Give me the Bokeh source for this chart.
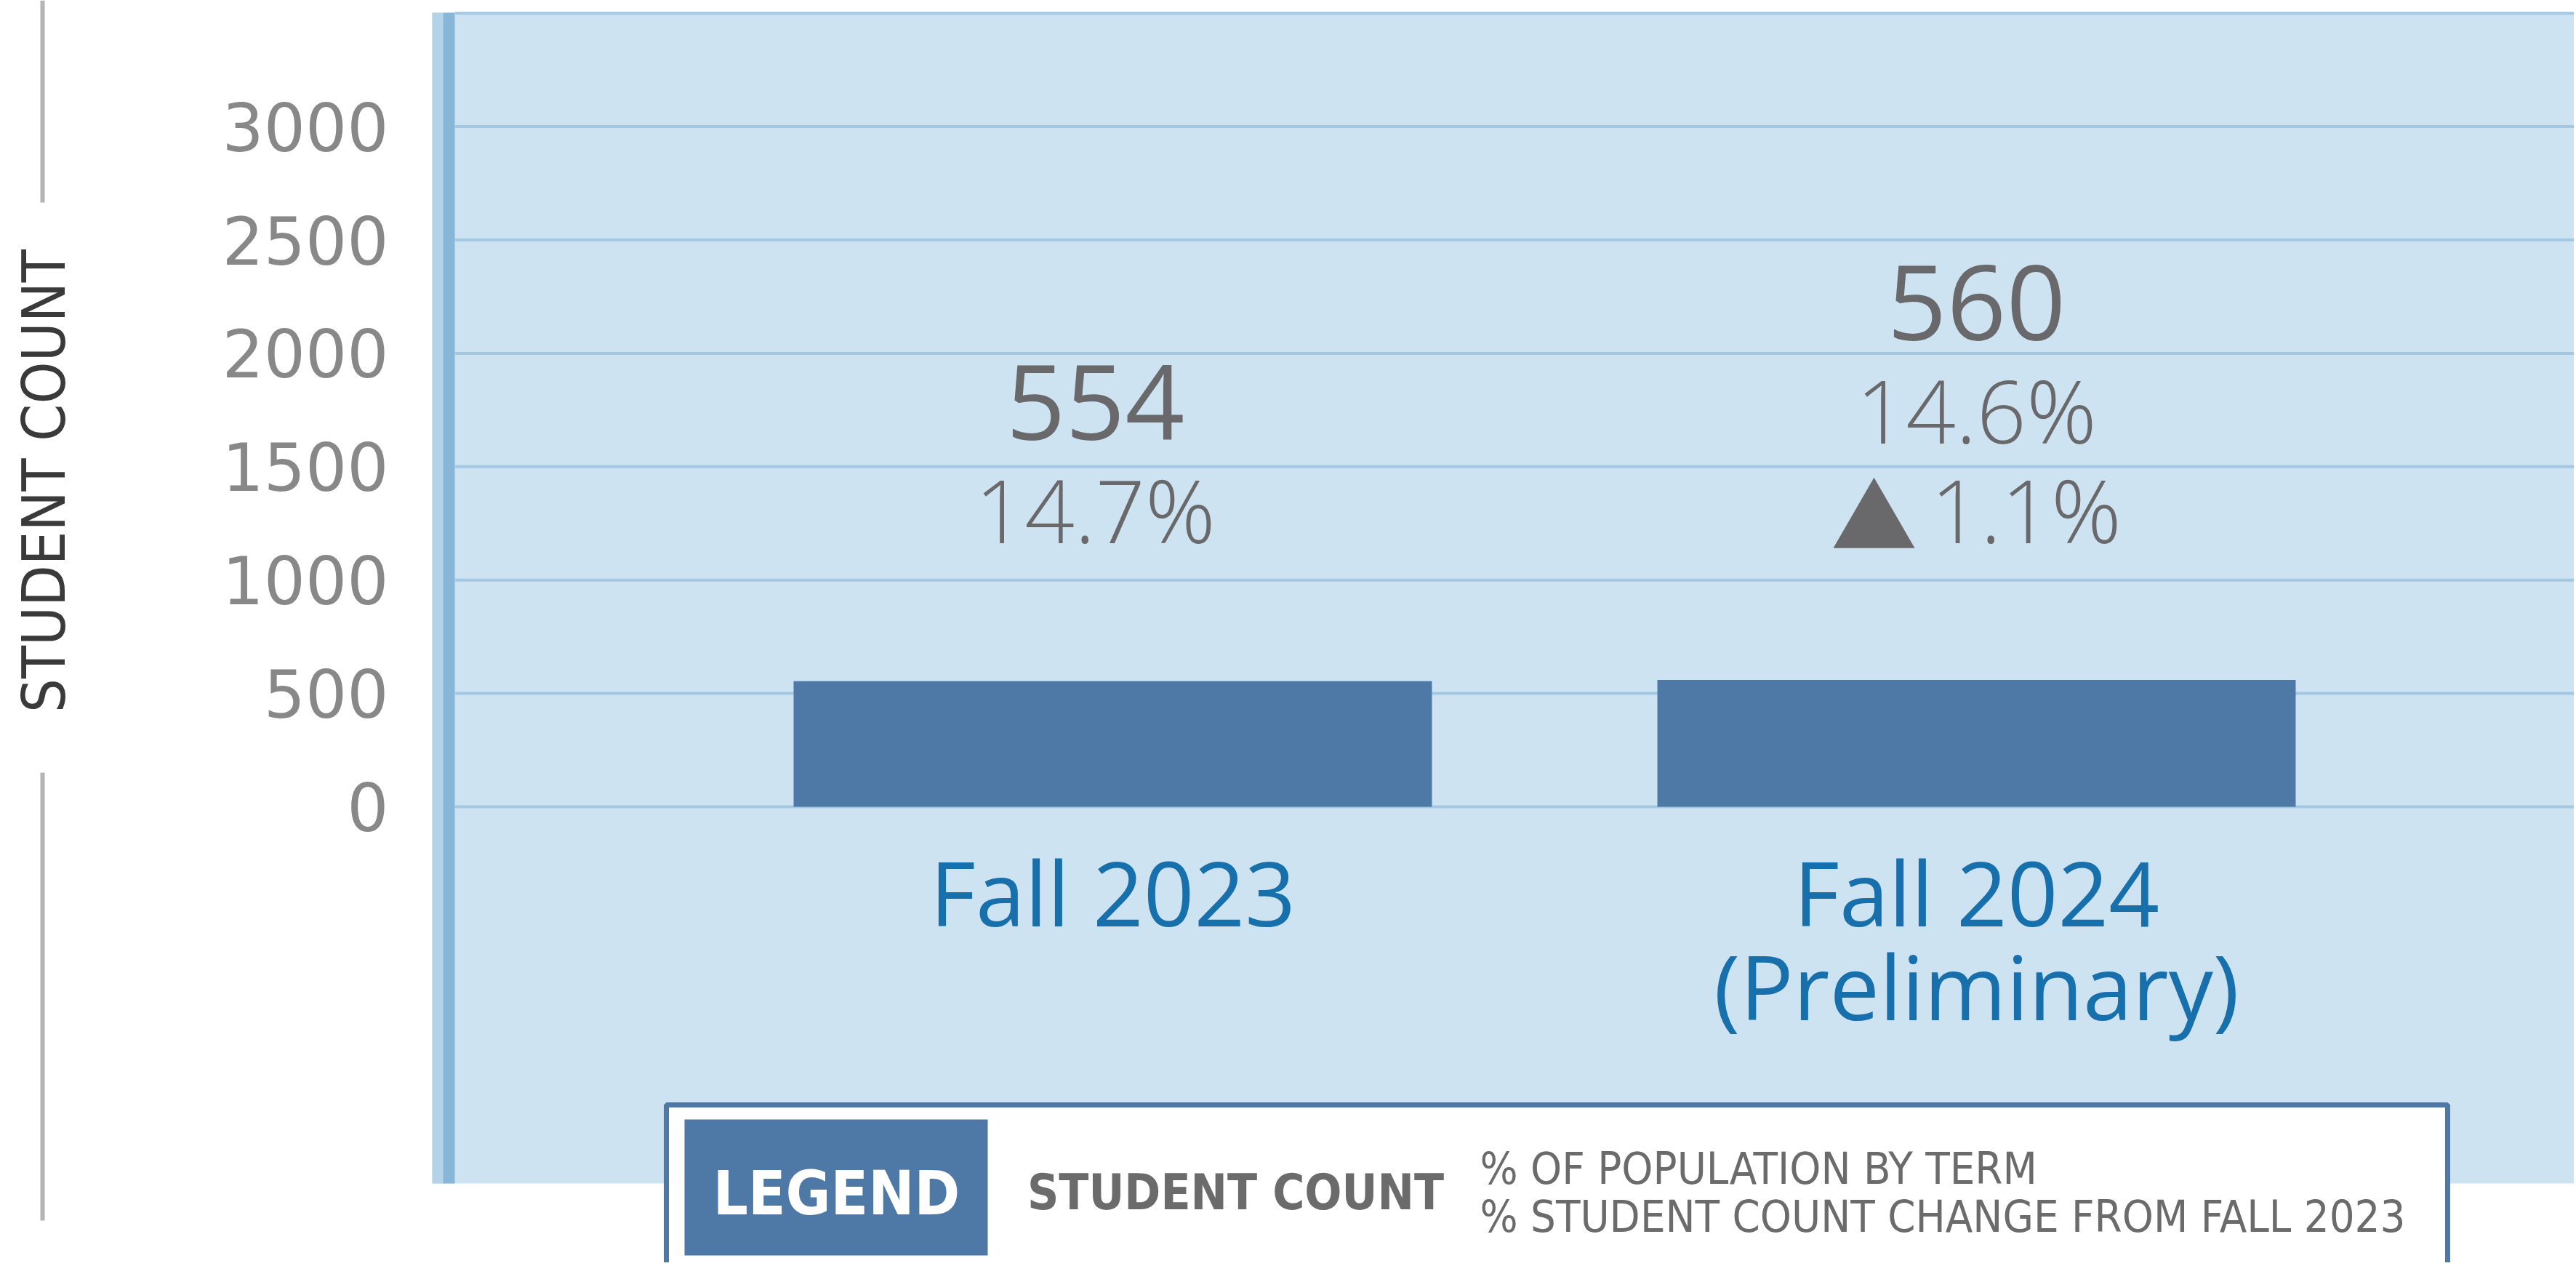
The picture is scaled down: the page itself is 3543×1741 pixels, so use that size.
import math
from bokeh.plotting import figure
from bokeh.models import Range1d, FixedTicker, BoxAnnotation, Label
from bokeh.embed import file_html
from bokeh.resources import INLINE
from bokeh.core.properties import value

# ---------------- data ----------------
categories = ["Fall 2023", "Fall 2024\n(Preliminary)"]
student_counts = [554, 560]
pct_of_population = [14.7, 14.6]
pct_change = [None, 1.1]
y_tick_values = [0, 500, 1000, 1500, 2000, 2500, 3000]
grid_values = [0, 500, 1000, 1500, 2000, 2500, 3000, 3500]
y_axis_title = "STUDENT COUNT"
legend_title = "LEGEND"
legend_main = "STUDENT COUNT"
legend_lines = ["% OF POPULATION BY TERM", "% STUDENT COUNT CHANGE FROM FALL 2023"]

# ---------------- colours ----------------
PANEL = "#cee3f1"
GRID = "#a4c8e2"
STRIPE_LIGHT = "#b3d3e8"
STRIPE_DARK = "#87b6d6"
BAR = "#4e78a6"
VALUE_GRAY = "#69696b"
CAT_BLUE = "#1770ab"
TICK_GRAY = "#888888"

# ---------------- geometry (page pixels) ----------------
W, H = 3540, 1736
X_PX = 1188.0          # pixels per category step
X1_PAGE = 1530         # page x of first category
Y0_PAGE = 1109         # page y of value 0
Y_PX = 155.9 / 500.0   # pixels per unit
OS_DESC = 0.40         # Open Sans baseline correction (em)
DV_DESC = 0.28         # DejaVu baseline correction (em)
LABEL_NUDGE = [-24, 0]  # horizontal nudge (px) of each value-label stack


def xd(px):
    return 1 + (px - X1_PAGE) / X_PX


def yd(py):
    return (Y0_PAGE - py) / Y_PX


def base(py, size, desc):
    # y for an alphabetic-baseline text so that its baseline lands on page y `py`
    return yd(py - desc * size)


x_start, x_end = xd(0), xd(W)
y_end, y_start = yd(0), yd(H)

p = figure(width=W, height=H,
           x_range=Range1d(x_start, x_end), y_range=Range1d(y_start, y_end),
           output_backend="svg", toolbar_location=None,
           x_axis_location=None, y_axis_location="left",
           min_border_left=0, min_border_right=0,
           min_border_top=0, min_border_bottom=0,
           background_fill_color="white", border_fill_color="white",
           outline_line_color=None)

for g in p.xgrid:
    g.visible = False
for g in p.ygrid:
    g.visible = False

PANEL_LEFT, PANEL_TOP, PANEL_BOTTOM = 594, 17, 1627


def box(l, r, t, b, color, **kw):
    return BoxAnnotation(left=l, right=r, top=t, bottom=b, fill_color=color,
                         fill_alpha=1.0, line_color=None, **kw)


# panel background and left stripes (under the glyphs)
p.add_layout(box(xd(PANEL_LEFT), x_end, yd(PANEL_TOP), yd(PANEL_BOTTOM), PANEL, level="underlay"))
p.add_layout(box(xd(PANEL_LEFT), xd(609), yd(PANEL_TOP), yd(PANEL_BOTTOM), STRIPE_LIGHT, level="underlay"))
p.add_layout(box(xd(609), xd(625), yd(PANEL_TOP), yd(PANEL_BOTTOM), STRIPE_DARK, level="underlay"))

# horizontal grid lines inside the panel
p.segment(x0=[xd(625)] * len(grid_values), x1=[x_end] * len(grid_values),
          y0=grid_values, y1=grid_values, line_color=GRID, line_width=4)

# y axis placed at the panel edge
ax = p.yaxis[0]
ax.fixed_location = xd(PANEL_LEFT)
ax.ticker = FixedTicker(ticks=y_tick_values)
ax.major_label_text_font = "DejaVu Sans"
ax.major_label_text_font_size = "90px"
ax.major_label_text_color = TICK_GRAY
ax.major_label_standoff = 60
ax.major_tick_out = 0
ax.major_tick_in = 0
ax.major_tick_line_color = None
ax.minor_tick_line_color = None
ax.axis_line_color = None

# ---------------- bars ----------------
xs = [i + 1 for i in range(len(categories))]
p.vbar(x=xs, top=student_counts, bottom=0, width=0.739,
       fill_color=BAR, line_color=None)

# ---------------- value labels ----------------
CNT_SIZE, PCT_SIZE = 143, 120
BASE = 748
LINE = 137.5
cnt_x, cnt_y, cnt_t = [], [], []
pct_x, pct_y, pct_t = [], [], []
chg_x, chg_y, chg_t, tri_x, tri_y = [], [], [], [], []
for i, x in enumerate(xs):
    lx = x + LABEL_NUDGE[i] / X_PX
    n = 2 + (1 if pct_change[i] is not None else 0)
    cnt_x.append(lx); cnt_y.append(base(BASE - (n - 1) * LINE, CNT_SIZE, OS_DESC))
    cnt_t.append(str(student_counts[i]))
    pct_x.append(lx); pct_y.append(base(BASE - (n - 2) * LINE, PCT_SIZE, OS_DESC))
    pct_t.append(f"{pct_of_population[i]:.1f}%")
    if pct_change[i] is not None:
        chg_x.append(lx - 63 / X_PX); chg_y.append(base(BASE, PCT_SIZE, OS_DESC))
        chg_t.append(f"{abs(pct_change[i]):.1f}%")
        tri_x.append(lx - 141 / X_PX); tri_y.append(yd(721))

p.text(x=cnt_x, y=cnt_y, text=cnt_t, text_align="center", text_baseline="alphabetic",
       text_font=value("Open Sans"), text_font_size=f"{CNT_SIZE}px", text_color=VALUE_GRAY)
p.text(x=pct_x, y=pct_y, text=pct_t, text_align="center", text_baseline="alphabetic",
       text_font=value("Open Sans Light"), text_font_size=f"{PCT_SIZE}px", text_color=VALUE_GRAY)
p.text(x=chg_x, y=chg_y, text=chg_t, text_align="left", text_baseline="alphabetic",
       text_font=value("Open Sans Light"), text_font_size=f"{PCT_SIZE}px", text_color=VALUE_GRAY)
p.scatter(x=tri_x, y=tri_y, marker="triangle", size=112,
          fill_color=VALUE_GRAY, line_color=None)

# ---------------- category labels ----------------
CAT_SIZE = 122
l1_x, l1_t, l2_x, l2_t = [], [], [], []
for i, c in enumerate(categories):
    parts = c.split("\n")
    l1_x.append(xs[i]); l1_t.append(parts[0])
    if len(parts) > 1:
        l2_x.append(xs[i]); l2_t.append(parts[1])
p.text(x=l1_x, y=[base(1275, CAT_SIZE, OS_DESC)] * len(l1_x), text=l1_t, text_align="center",
       text_baseline="alphabetic", text_font=value("Open Sans"),
       text_font_size=f"{CAT_SIZE}px", text_color=CAT_BLUE)
p.text(x=l2_x, y=[base(1404, CAT_SIZE, OS_DESC)] * len(l2_x), text=l2_t, text_align="center",
       text_baseline="alphabetic", text_font=value("Open Sans"),
       text_font_size=f"{CAT_SIZE}px", text_color=CAT_BLUE)

# ---------------- left side: grey rules and rotated title ----------------
p.add_layout(box(xd(55), xd(61), yd(0), yd(278), "#b4b4b4"))
p.add_layout(box(xd(55), xd(61), yd(1062), yd(1678), "#b4b4b4"))
p.add_layout(Label(x=xd(60), y=yd(661), text=y_axis_title, angle=math.pi / 2,
                   text_align="center", text_baseline="middle",
                   text_font="DejaVu Sans Condensed", text_font_size="82px",
                   text_color="#3a3a3a"))

# ---------------- legend ----------------
p.add_layout(BoxAnnotation(left=xd(916), right=xd(3366), top=yd(1519), bottom=yd(1900),
                           fill_color="white", fill_alpha=1.0,
                           line_color=BAR, line_width=7, line_alpha=1.0))
p.add_layout(box(xd(941), xd(1358), yd(1539), yd(1726), BAR))
p.add_layout(Label(x=xd(1150), y=base(1664, 84, DV_DESC), text=legend_title, text_align="center",
                   text_baseline="alphabetic", text_font="DejaVu Sans Condensed",
                   text_font_style="bold", text_font_size="84px", text_color="white"))
p.add_layout(Label(x=xd(1699), y=base(1658, 67, DV_DESC), text=legend_main, text_align="center",
                   text_baseline="alphabetic", text_font="DejaVu Sans Condensed",
                   text_font_style="bold", text_font_size="67px", text_color="#6b6b6b"))
for txt, bl in zip(legend_lines, [1623, 1689]):
    p.add_layout(Label(x=xd(2035), y=base(bl, 61, DV_DESC), text=txt, text_align="left",
                       text_baseline="alphabetic", text_font="DejaVu Sans Condensed",
                       text_font_size="61px", text_color="#6b6b6b"))

open("out.html", "w").write(file_html(p, INLINE, title="Student Count"))
